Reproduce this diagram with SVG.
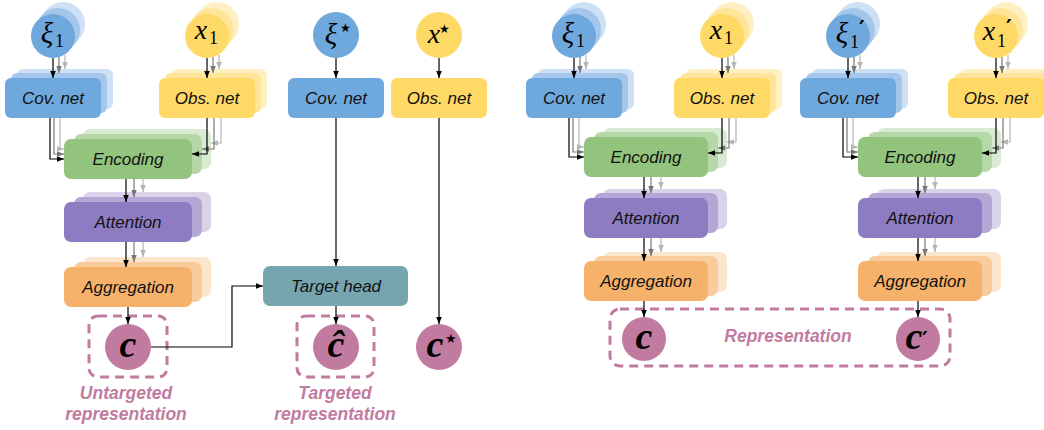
<svg xmlns="http://www.w3.org/2000/svg" width="1044" height="430" viewBox="0 0 1044 430">
<style>
.bf{fill:#6fa8dc}.bm{fill:#a4c6ea}.bb{fill:#cde0f4}
.yf{fill:#ffd966}.ym{fill:#ffe59a}.yb{fill:#fff0c4}
.gf{fill:#93c47d}.gm{fill:#b6d7a8}.gb{fill:#d9ead3}
.pf{fill:#8e7cc3}.pm{fill:#b4a7d6}.pb{fill:#d9d2e9}
.of{fill:#f6b26b}.om{fill:#f9cb9c}.ob{fill:#fce5cd}
.tf{fill:#76a5af}
.pk{fill:#c27ba0}
.lbl{font-family:"Liberation Sans",Arial,sans-serif;font-style:italic;font-size:17px;fill:#111;text-anchor:middle}
.pl{font-family:"Liberation Sans",Arial,sans-serif;font-style:italic;font-weight:bold;font-size:17.5px;fill:#c27ba0;text-anchor:middle}
.m{font-family:"Liberation Serif","DejaVu Serif",serif;font-style:italic;fill:#000;text-anchor:middle}
.sub{font-family:"Liberation Serif","DejaVu Serif",serif;font-style:normal;fill:#000;font-size:18px}
.pr{font-family:"DejaVu Sans",sans-serif;font-style:normal;font-weight:bold;fill:#000;font-size:22px}
.mc{font-family:"Liberation Serif","DejaVu Serif",serif;font-style:italic;font-weight:bold;font-size:38px;fill:#000;text-anchor:middle}
.st{font-family:"DejaVu Sans",sans-serif;font-style:normal;font-weight:normal;fill:#000}
.dash{fill:none;stroke:#c27ba0;stroke-width:3;stroke-dasharray:9 6}
.k{fill:none;stroke:#000;stroke-width:1.2;marker-end:url(#ak)}
.g{fill:none;stroke:#777;stroke-width:1.2;marker-end:url(#ag)}
.l{fill:none;stroke:#b5b5b5;stroke-width:1.2;marker-end:url(#al)}
</style>
<defs>
<marker id="ak" viewBox="0 0 10 8" refX="10" refY="4" markerWidth="7" markerHeight="5.6" markerUnits="userSpaceOnUse" orient="auto"><path d="M0,0 L10,4 L0,8 z" fill="#000"/></marker>
<marker id="ag" viewBox="0 0 10 8" refX="10" refY="4" markerWidth="7" markerHeight="5.6" markerUnits="userSpaceOnUse" orient="auto"><path d="M0,0 L10,4 L0,8 z" fill="#777"/></marker>
<marker id="al" viewBox="0 0 10 8" refX="10" refY="4" markerWidth="7" markerHeight="5.6" markerUnits="userSpaceOnUse" orient="auto"><path d="M0,0 L10,4 L0,8 z" fill="#b5b5b5"/></marker>
</defs>

<!-- ===== Pipeline A (left) ===== -->
<g id="A-xi1">
<circle class="bb" cx="63" cy="24" r="22"/><circle class="bm" cx="58" cy="30" r="22"/><circle class="bf" cx="53" cy="36" r="22"/>
<text class="m" x="47" y="43" font-size="29">ξ</text><text class="sub" x="55" y="47">1</text>
</g>
<g id="A-x1">
<circle class="yb" cx="217" cy="24" r="22"/><circle class="ym" cx="212" cy="30" r="22"/><circle class="yf" cx="207" cy="36" r="22"/>
<text class="m" x="201" y="39" font-size="28">x</text><text class="sub" x="209" y="44">1</text>
</g>
<g id="A-cov">
<rect class="bb" x="17" y="69" width="96" height="40" rx="6"/><rect class="bm" x="11" y="73" width="96" height="40" rx="6"/><rect class="bf" x="5" y="78" width="96" height="40" rx="6"/>
<text class="lbl" x="53" y="104">Cov. net</text>
</g>
<g id="A-obs">
<rect class="yb" x="171" y="69" width="96" height="40" rx="6"/><rect class="ym" x="165" y="73" width="96" height="40" rx="6"/><rect class="yf" x="159" y="78" width="96" height="40" rx="6"/>
<text class="lbl" x="207" y="104">Obs. net</text>
</g>
<g id="A-enc">
<rect class="gb" x="83" y="129" width="128" height="40" rx="7"/><rect class="gm" x="74" y="134" width="128" height="40" rx="7"/><rect class="gf" x="64" y="139" width="128" height="40" rx="7"/>
<text class="lbl" x="128" y="165">Encoding</text>
</g>
<g id="A-att">
<rect class="pb" x="83" y="192" width="128" height="40" rx="7"/><rect class="pm" x="74" y="197" width="128" height="40" rx="7"/><rect class="pf" x="64" y="202" width="128" height="40" rx="7"/>
<text class="lbl" x="128" y="228">Attention</text>
</g>
<g id="A-agg">
<rect class="ob" x="83" y="257" width="128" height="40" rx="7"/><rect class="om" x="74" y="262" width="128" height="40" rx="7"/><rect class="of" x="64" y="267" width="128" height="40" rx="7"/>
<text class="lbl" x="128" y="293">Aggregation</text>
</g>
<g id="A-c">
<rect class="dash" x="89" y="316" width="78" height="61" rx="9"/>
<circle class="pk" cx="128" cy="347" r="23"/>
<text class="mc" x="128" y="357">c</text>
<text class="pl" x="126" y="399">Untargeted</text>
<text class="pl" x="126" y="420">representation</text>
</g>

<!-- ===== Middle (target) ===== -->
<g id="M-xistar">
<circle class="bf" cx="336" cy="35" r="23"/>
<text class="m" x="331" y="44" font-size="29">ξ</text><text class="st" x="340" y="32" font-size="12">★</text>
</g>
<g id="M-xstar">
<circle class="yf" cx="439" cy="35" r="23"/>
<text class="m" x="434" y="43" font-size="28">x</text><text class="st" x="439" y="33" font-size="12">★</text>
</g>
<g id="M-cov">
<rect class="bf" x="288" y="78" width="96" height="40" rx="6"/>
<text class="lbl" x="336" y="104">Cov. net</text>
</g>
<g id="M-obs">
<rect class="yf" x="391" y="78" width="96" height="40" rx="6"/>
<text class="lbl" x="439" y="104">Obs. net</text>
</g>
<g id="M-head">
<rect class="tf" x="263" y="266" width="145" height="40" rx="7"/>
<text class="lbl" x="336" y="292">Target head</text>
</g>
<g id="M-chat">
<rect class="dash" x="297" y="316" width="77" height="61" rx="9"/>
<circle class="pk" cx="336" cy="347" r="23"/>
<text class="mc" x="336" y="357">ĉ</text>
<text class="pl" x="335" y="399">Targeted</text>
<text class="pl" x="335" y="420">representation</text>
</g>
<g id="M-cstar">
<circle class="pk" cx="439" cy="347" r="23"/>
<text class="mc" x="435" y="357">c</text><text class="st" x="445" y="343" font-size="13">★</text>
</g>

<!-- ===== Pipeline B1 ===== -->
<g id="B1-xi1">
<circle class="bb" cx="584" cy="24" r="22"/><circle class="bm" cx="579" cy="30" r="22"/><circle class="bf" cx="574" cy="36" r="22"/>
<text class="m" x="568" y="43" font-size="29">ξ</text><text class="sub" x="576" y="47">1</text>
</g>
<g id="B1-x1">
<circle class="yb" cx="732" cy="24" r="22"/><circle class="ym" cx="727" cy="30" r="22"/><circle class="yf" cx="722" cy="36" r="22"/>
<text class="m" x="716" y="39" font-size="28">x</text><text class="sub" x="724" y="44">1</text>
</g>
<g id="B1-cov">
<rect class="bb" x="538" y="69" width="96" height="40" rx="6"/><rect class="bm" x="532" y="73" width="96" height="40" rx="6"/><rect class="bf" x="526" y="78" width="96" height="40" rx="6"/>
<text class="lbl" x="574" y="104">Cov. net</text>
</g>
<g id="B1-obs">
<rect class="yb" x="686" y="69" width="96" height="40" rx="6"/><rect class="ym" x="680" y="73" width="96" height="40" rx="6"/><rect class="yf" x="674" y="78" width="96" height="40" rx="6"/>
<text class="lbl" x="722" y="104">Obs. net</text>
</g>
<g id="B1-enc">
<rect class="gb" x="603" y="128" width="124" height="40" rx="7"/><rect class="gm" x="594" y="132" width="124" height="40" rx="7"/><rect class="gf" x="584" y="137" width="124" height="40" rx="7"/>
<text class="lbl" x="646" y="163">Encoding</text>
</g>
<g id="B1-att">
<rect class="pb" x="603" y="189" width="124" height="40" rx="7"/><rect class="pm" x="594" y="193" width="124" height="40" rx="7"/><rect class="pf" x="584" y="198" width="124" height="40" rx="7"/>
<text class="lbl" x="646" y="224">Attention</text>
</g>
<g id="B1-agg">
<rect class="ob" x="603" y="252" width="124" height="40" rx="7"/><rect class="om" x="594" y="256" width="124" height="40" rx="7"/><rect class="of" x="584" y="261" width="124" height="40" rx="7"/>
<text class="lbl" x="646" y="287">Aggregation</text>
</g>

<!-- ===== Pipeline B2 ===== -->
<g id="B2-xi1p">
<circle class="bb" cx="858" cy="24" r="22"/><circle class="bm" cx="853" cy="30" r="22"/><circle class="bf" cx="848" cy="36" r="22"/>
<text class="m" x="842" y="43" font-size="29">ξ</text><text class="sub" x="850" y="48">1</text><text class="pr" x="859" y="36">′</text>
</g>
<g id="B2-x1p">
<circle class="yb" cx="1006" cy="24" r="22"/><circle class="ym" cx="1001" cy="30" r="22"/><circle class="yf" cx="996" cy="36" r="22"/>
<text class="m" x="989" y="40" font-size="28">x</text><text class="sub" x="997" y="47">1</text><text class="pr" x="1006" y="35">′</text>
</g>
<g id="B2-cov">
<rect class="bb" x="812" y="69" width="96" height="40" rx="6"/><rect class="bm" x="806" y="73" width="96" height="40" rx="6"/><rect class="bf" x="800" y="78" width="96" height="40" rx="6"/>
<text class="lbl" x="848" y="104">Cov. net</text>
</g>
<g id="B2-obs">
<rect class="yb" x="960" y="69" width="96" height="40" rx="6"/><rect class="ym" x="954" y="73" width="96" height="40" rx="6"/><rect class="yf" x="948" y="78" width="96" height="40" rx="6"/>
<text class="lbl" x="996" y="104">Obs. net</text>
</g>
<g id="B2-enc">
<rect class="gb" x="877" y="128" width="124" height="40" rx="7"/><rect class="gm" x="868" y="132" width="124" height="40" rx="7"/><rect class="gf" x="858" y="137" width="124" height="40" rx="7"/>
<text class="lbl" x="920" y="163">Encoding</text>
</g>
<g id="B2-att">
<rect class="pb" x="877" y="189" width="124" height="40" rx="7"/><rect class="pm" x="868" y="193" width="124" height="40" rx="7"/><rect class="pf" x="858" y="198" width="124" height="40" rx="7"/>
<text class="lbl" x="920" y="224">Attention</text>
</g>
<g id="B2-agg">
<rect class="ob" x="877" y="252" width="124" height="40" rx="7"/><rect class="om" x="868" y="256" width="124" height="40" rx="7"/><rect class="of" x="858" y="261" width="124" height="40" rx="7"/>
<text class="lbl" x="920" y="287">Aggregation</text>
</g>

<g id="B-rep">
<rect class="dash" x="610" y="309" width="340" height="57" rx="10"/>
<circle class="pk" cx="644" cy="339" r="22"/>
<text class="mc" x="644" y="349">c</text>
<circle class="pk" cx="918" cy="339" r="22"/>
<text class="mc" x="914" y="349">c</text><text class="pr" x="922" y="347" font-size="30">′</text>
<text class="pl" x="788" y="342" font-size="17">Representation</text>
</g>

<!-- ===== Connectors ===== -->
<g id="connectors">
<!-- A -->
<path class="k" d="M53,58 V78"/><path class="g" d="M59,57 V73"/><path class="l" d="M65,55 V69"/>
<path class="k" d="M207,58 V78"/><path class="g" d="M213,57 V73"/><path class="l" d="M219,55 V69"/>
<path class="l" d="M60,118 V149 H64"/><path class="g" d="M54,118 V154 H64"/><path class="k" d="M50,118 V159 H64"/>
<path class="l" d="M221,118 V143 H211"/><path class="g" d="M214,118 V149 H202"/><path class="k" d="M207,118 V154 H192"/>
<path class="k" d="M126,179 V202"/><path class="g" d="M134,179 V197"/><path class="l" d="M143,179 V192"/>
<path class="k" d="M126,242 V267"/><path class="g" d="M134,242 V262"/><path class="l" d="M143,242 V257"/>
<path class="k" d="M128,307 V324"/>
<!-- middle -->
<path class="k" d="M336,58 V78"/>
<path class="k" d="M439,58 V78"/>
<path class="k" d="M336,118 V266"/>
<path class="k" d="M439,118 V324"/>
<path class="k" d="M336,306 V324"/>
<path class="k" d="M151,347 H232 V286 H263"/>
<!-- B1 -->
<path class="k" d="M574,58 V78"/><path class="g" d="M580,57 V73"/><path class="l" d="M586,55 V69"/>
<path class="k" d="M722,58 V78"/><path class="g" d="M728,57 V73"/><path class="l" d="M734,55 V69"/>
<path class="l" d="M579,118 V147 H584"/><path class="g" d="M573,118 V152 H584"/><path class="k" d="M569,118 V157 H584"/>
<path class="l" d="M736,118 V142 H727"/><path class="g" d="M729,118 V148 H718"/><path class="k" d="M722,118 V153 H708"/>
<path class="k" d="M644,177 V198"/><path class="g" d="M651,177 V193"/><path class="l" d="M661,177 V189"/>
<path class="k" d="M644,238 V261"/><path class="g" d="M651,238 V256"/><path class="l" d="M661,238 V252"/>
<path class="k" d="M644,301 V317"/>
<!-- B2 -->
<path class="k" d="M848,58 V78"/><path class="g" d="M854,57 V73"/><path class="l" d="M860,55 V69"/>
<path class="k" d="M996,58 V78"/><path class="g" d="M1002,57 V73"/><path class="l" d="M1008,55 V69"/>
<path class="l" d="M853,118 V147 H858"/><path class="g" d="M847,118 V152 H858"/><path class="k" d="M843,118 V157 H858"/>
<path class="l" d="M1010,118 V142 H1001"/><path class="g" d="M1003,118 V148 H992"/><path class="k" d="M996,118 V153 H982"/>
<path class="k" d="M918,177 V198"/><path class="g" d="M925,177 V193"/><path class="l" d="M935,177 V189"/>
<path class="k" d="M918,238 V261"/><path class="g" d="M925,238 V256"/><path class="l" d="M935,238 V252"/>
<path class="k" d="M918,301 V317"/>
</g>
</svg>
